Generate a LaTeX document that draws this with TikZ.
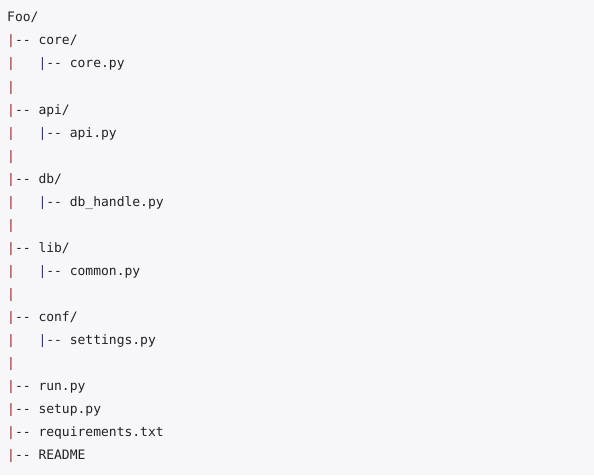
\documentclass[tikz,border=0pt]{standalone}
\usepackage{fontspec}
\setmonofont{DejaVu Sans Mono}
\definecolor{codebg}{HTML}{F7F7FA}
\definecolor{codetext}{HTML}{222222}
\definecolor{pipetop}{HTML}{A01C1C}
\definecolor{pipesub}{HTML}{2C2C96}
\newcommand{\toppipe}{\textcolor{pipetop}{|}}
\newcommand{\subpipe}{\textcolor{pipesub}{|}}
\newcommand{\dd}{-{}-~}

\begin{document}
\begin{tikzpicture}[x=1pt,y=1pt,
  treeline/.style={anchor=base west,inner sep=0pt,text=codetext,
    font=\fontsize{13}{23}\ttfamily}]
\fill[codebg] (0,0) rectangle (594,475);
\useasboundingbox (0,0) rectangle (594,475);
% one node per line of the listing
\node[treeline] (foo) at (7,453) {Foo/};
\node[treeline] (core) at (7,430) {\toppipe\dd core/};
\node[treeline] (corepy) at (7,407) {\toppipe~~~\subpipe\dd core.py};
\node[treeline] (gap1) at (7,384) {\toppipe};
\node[treeline] (api) at (7,361) {\toppipe\dd api/};
\node[treeline] (apipy) at (7,338) {\toppipe~~~\subpipe\dd api.py};
\node[treeline] (gap2) at (7,315) {\toppipe};
\node[treeline] (db) at (7,292) {\toppipe\dd db/};
\node[treeline] (dbpy) at (7,269) {\toppipe~~~\subpipe\dd db\_handle.py};
\node[treeline] (gap3) at (7,246) {\toppipe};
\node[treeline] (lib) at (7,223) {\toppipe\dd lib/};
\node[treeline] (libpy) at (7,200) {\toppipe~~~\subpipe\dd common.py};
\node[treeline] (gap4) at (7,177) {\toppipe};
\node[treeline] (conf) at (7,154) {\toppipe\dd conf/};
\node[treeline] (confpy) at (7,131) {\toppipe~~~\subpipe\dd settings.py};
\node[treeline] (gap5) at (7,108) {\toppipe};
\node[treeline] (run) at (7,85) {\toppipe\dd run.py};
\node[treeline] (setup) at (7,62) {\toppipe\dd setup.py};
\node[treeline] (req) at (7,39) {\toppipe\dd requirements.txt};
\node[treeline] (readme) at (7,16) {\toppipe\dd README};
\end{tikzpicture}
\end{document}
